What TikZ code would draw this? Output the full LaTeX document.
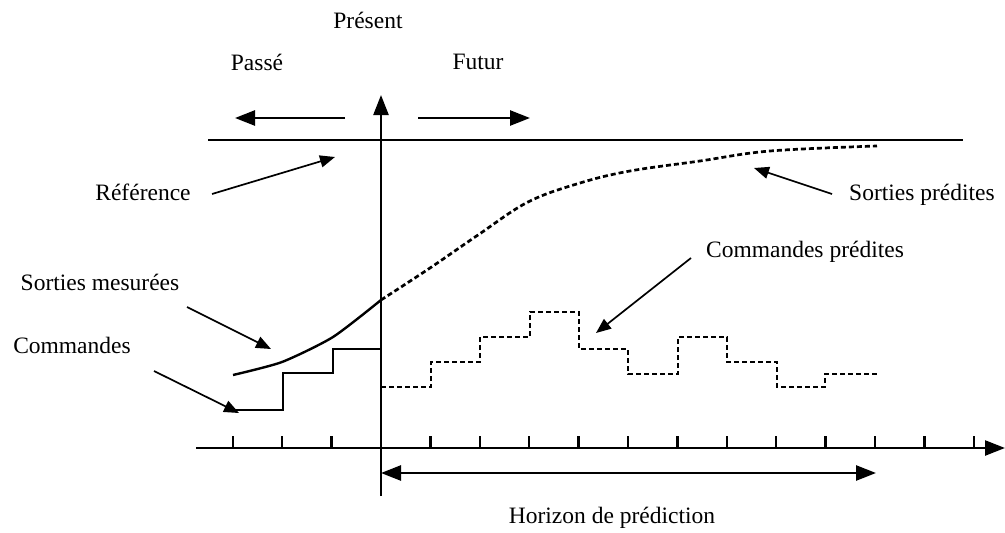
\documentclass[tikz,border=0pt]{standalone}
\usepackage{fontspec}
\setmainfont{Liberation Serif}
\usetikzlibrary{arrows.meta,positioning,calc}

\begin{document}
\begin{tikzpicture}[
    x=1pt, y=-1pt,
    lbl/.style={font=\fontsize{23.5}{28}\selectfont, inner sep=0pt},
    axis/.style={line width=2.4pt},
    bigarrow/.style={line width=2.6pt, -{Triangle[length=20pt,width=15pt]}},
    pointer/.style={line width=1.7pt, -{Triangle[length=15pt,width=12pt]}},
    predicted/.style={line width=2.7pt, dash pattern=on 5pt off 3pt},
    measured/.style={line width=2.4pt}
]
\useasboundingbox (0,0) rectangle (1005,533);

% Labels
\node[lbl] (present) at (368,20) {Présent};
\node[lbl] (passe) at (257,62) {Passé};
\node[lbl] (futur) at (478,62) {Futur};
\node[lbl] (reference) at (143,192) {Référence};
\node[lbl] (sortiesmes) at (100,282) {Sorties mesurées};
\node[lbl] (commandes) at (72,345) {Commandes};
\node[lbl] (sortiespred) at (922,195) {Sorties prédites};
\node[lbl] (commandespred) at (805,252) {Commandes prédites};
\node[lbl] (horizon) at (612,518) {Horizon de prédiction};

% Axes
\coordinate (origin) at (381,448);
\coordinate (vtop) at (381,95);
\coordinate (vbottom) at (381,496);
\coordinate (hleft) at (196,448);
\coordinate (hright) at (1005,448);
\draw[axis, -{Triangle[length=20pt,width=15pt]}] (vbottom) -- (vtop);
\draw[axis, -{Triangle[length=20pt,width=15pt]}] (hleft) -- (hright);
\foreach \k in {-3,...,12}
    \draw[axis] ($(origin)+(49.4*\k,0)$) -- ++(0,-12);

% Reference
\coordinate (refstart) at (208,140);
\coordinate (refend) at (963,140);
\draw[line width=2.8pt] (refstart) -- (refend);

% Past / future
\coordinate (passetail) at (345,118);
\coordinate (passetip) at (235,118);
\coordinate (futurtail) at (418,118);
\coordinate (futurtip) at (530,118);
\draw[bigarrow] (passetail) -- (passetip);
\draw[bigarrow] (futurtail) -- (futurtip);

% Horizon
\coordinate (horleft) at (381,473);
\coordinate (horright) at (876,473);
\draw[line width=2.6pt, {Triangle[length=20pt,width=15pt]}-{Triangle[length=20pt,width=15pt]}] (horleft) -- (horright);

% Measured outputs and past commands
\draw[measured] plot[smooth, tension=0.4] coordinates {(233,375) (282,362) (333,337) (381,300)};
\draw[measured] (233,410) -- (283,410) -- (283,373) -- (333,373) -- (333,349) -- (381,349);

% Predicted outputs
\draw[predicted] plot[smooth, tension=0.6] coordinates {(381,300) (430,268) (478,235) (528,202) (580,183) (630,171) (700,161) (770,151) (877,146)};

% Predicted commands
\draw[predicted] (381,387) -- (431,387) -- (431,362) -- (480,362) -- (480,337) -- (530,337)
    -- (530,312) -- (579,312) -- (579,349) -- (628,349) -- (628,374) -- (678,374)
    -- (678,337) -- (727,337) -- (727,362) -- (777,362) -- (777,387) -- (825,387)
    -- (825,374) -- (877,374);

% Pointers
\coordinate (reftail) at (212,194);
\coordinate (reftip) at (335,157);
\coordinate (smtail) at (187,307);
\coordinate (smtip) at (271,349);
\coordinate (cmdtail) at (154,371);
\coordinate (cmdtip) at (239,413);
\coordinate (sptail) at (832,194);
\coordinate (sptip) at (754,168);
\coordinate (cptail) at (691,258);
\coordinate (cptip) at (596,333);
\draw[pointer] (reftail) -- (reftip);
\draw[pointer] (smtail) -- (smtip);
\draw[pointer] (cmdtail) -- (cmdtip);
\draw[pointer] (sptail) -- (sptip);
\draw[pointer] (cptail) -- (cptip);

\end{tikzpicture}
\end{document}
